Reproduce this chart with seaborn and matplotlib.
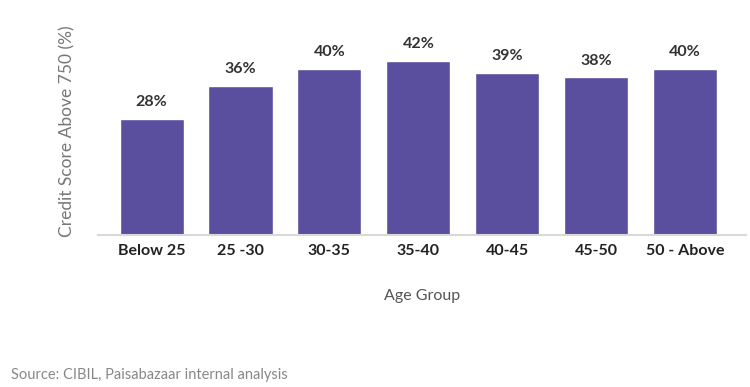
import matplotlib
matplotlib.use("Agg")
import matplotlib.pyplot as plt
import seaborn as sns
import pandas as pd

# Data
age_groups = ["Below 25", "25 -30", "30-35", "35-40", "40-45", "45-50", "50 - Above"]
share_above_750 = [28, 36, 40, 42, 39, 38, 40]
labels = [f"{v}%" for v in share_above_750]

df = pd.DataFrame({"age": age_groups, "share": share_above_750})

sns.set_style("white")
plt.rcParams["font.family"] = ["Lato", "DejaVu Sans"]

fig = plt.figure(figsize=(7.5, 3.87), dpi=100)
ax = fig.add_axes([0.131, 0.394, 0.863, 0.534])

sns.barplot(data=df, x="age", y="share", color="#5a4f9f", width=0.72,
            saturation=1, ax=ax)

for i, (v, lab) in enumerate(zip(share_above_750, labels)):
    ax.text(i, v + 2.4, lab, ha="center", va="bottom", fontsize=11.5,
            fontweight="bold", color="#333333")

ax.set_xlim(-0.6, 6.68)
ax.set_ylim(0, 50)
ax.set_yticks([])
for s in ["top", "right", "left"]:
    ax.spines[s].set_visible(False)
ax.spines["bottom"].set_color("#d9d9d9")
ax.spines["bottom"].set_linewidth(1.5)
ax.tick_params(axis="x", length=0, pad=7)
for t in ax.get_xticklabels():
    t.set_fontweight("bold")
    t.set_fontsize(11.5)
    t.set_color("#222222")

ax.set_xlabel("Age Group", fontsize=11.5, color="#555555", labelpad=22)
ax.set_ylabel("Credit Score Above 750 (%)", fontsize=12.5, color="#777777")
ax.yaxis.set_label_coords(-0.035, 0.5)

fig.text(0.015, 0.03, "Source: CIBIL, Paisabazaar internal analysis",
         fontsize=10.5, color="#888888", ha="left", va="center")

fig.savefig("out.png", dpi=100)
